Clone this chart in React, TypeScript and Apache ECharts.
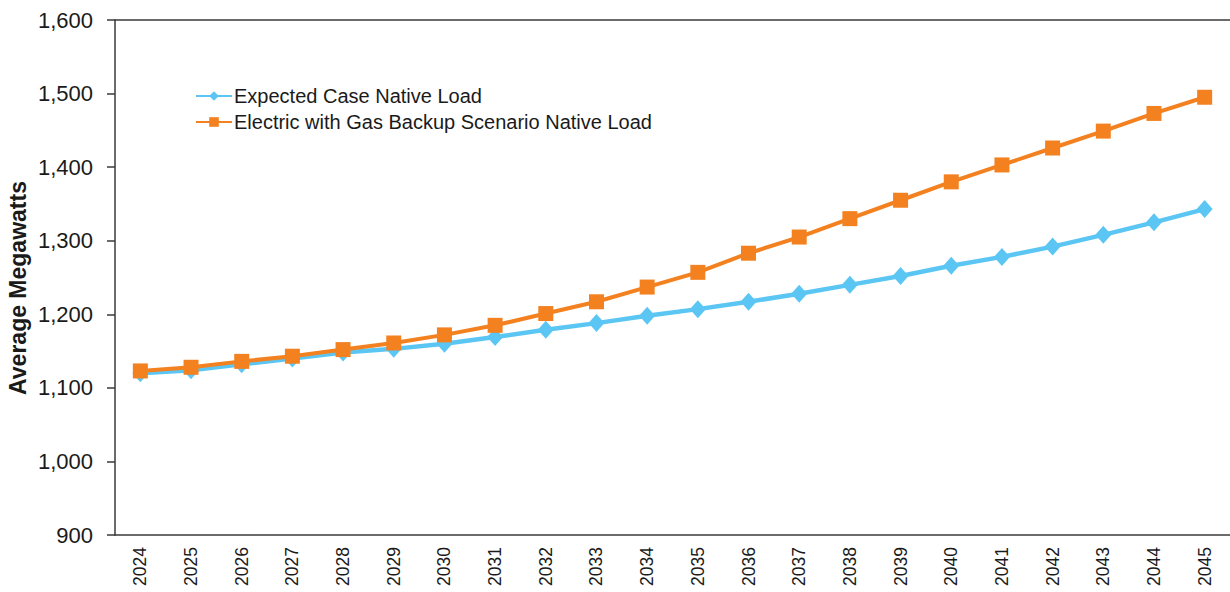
import React, { useEffect, useRef } from "react";
import * as echarts from "echarts";

const years = [
  "2024", "2025", "2026", "2027", "2028", "2029", "2030", "2031", "2032", "2033", "2034",
  "2035", "2036", "2037", "2038", "2039", "2040", "2041", "2042", "2043", "2044", "2045",
];

const expectedCase = [
  1120, 1124, 1132, 1140, 1148, 1153, 1160, 1169, 1179, 1188, 1198,
  1207, 1217, 1228, 1240, 1252, 1266, 1278, 1292, 1308, 1325, 1343,
];

const electricGasBackup = [
  1123, 1128, 1136, 1143, 1152, 1161, 1172, 1185, 1201, 1217, 1237,
  1257, 1283, 1305, 1330, 1355, 1380, 1403, 1426, 1449, 1473, 1495,
];

const seriesNames = [
  "Expected Case Native Load",
  "Electric with Gas Backup Scenario Native Load",
];

const yTitle = "Average Megawatts";

const BLUE = "#5BC6F4";
const ORANGE = "#F48120";
const AXIS = "#3a3a3a";
const FONT = "'Liberation Sans', Arial, sans-serif";

export default function App() {
  const ref = useRef<HTMLDivElement>(null);

  useEffect(() => {
    if (!ref.current) return;
    const chart = echarts.init(ref.current, undefined, { renderer: "svg" });
    chart.setOption({
      animation: false,
      backgroundColor: "#ffffff",
      textStyle: { fontFamily: FONT },
      grid: { left: 115, top: 20, right: -7, bottom: 57, containLabel: false },
      legend: {
        orient: "vertical",
        left: 195,
        top: 86,
        padding: 0,
        itemWidth: 36,
        itemHeight: 12,
        itemGap: 6,
        textStyle: { fontSize: 20, color: "#1a1a1a", fontFamily: FONT, padding: [0, 0, 0, -3] },
        data: seriesNames,
      },
      graphic: [
        {
          type: "text",
          x: 18,
          y: 288,
          rotation: Math.PI / 2,
          style: {
            text: yTitle,
            fontSize: 23,
            fontWeight: "bold",
            fill: "#1a1a1a",
            fontFamily: FONT,
            textAlign: "center",
            textVerticalAlign: "middle",
          },
        },
      ],
      xAxis: [
        {
          type: "category",
          data: years,
          boundaryGap: true,
          position: "bottom",
          axisLine: { show: true, lineStyle: { color: AXIS, width: 1.5 } },
          axisTick: { show: false },
          axisLabel: {
            rotate: 90,
            margin: 12,
            fontSize: 17.5,
            color: "#1a1a1a",
            fontFamily: FONT,
            interval: 0,
          },
          splitLine: { show: false },
        },
        {
          type: "category",
          data: years,
          position: "top",
          axisLine: { show: true, lineStyle: { color: AXIS, width: 1.5 } },
          axisTick: { show: false },
          axisLabel: { show: false },
          splitLine: { show: false },
        },
      ],
      yAxis: {
        type: "value",
        min: 900,
        max: 1600,
        interval: 100,
        axisLine: { show: true, lineStyle: { color: AXIS, width: 1.5 } },
        axisTick: { show: true, inside: false, length: 8, lineStyle: { color: AXIS, width: 1.5 } },
        axisLabel: {
          margin: 22,
          fontSize: 22,
          color: "#1a1a1a",
          fontFamily: FONT,
          formatter: (v: number) => v.toLocaleString("en-US"),
        },
        splitLine: { show: false },
      },
      series: [
        {
          name: seriesNames[0],
          type: "line",
          data: expectedCase,
          symbol: "diamond",
          symbolSize: [16, 18],
          lineStyle: { color: BLUE, width: 4.5 },
          itemStyle: { color: BLUE },
          z: 2,
        },
        {
          name: seriesNames[1],
          type: "line",
          data: electricGasBackup,
          symbol: "rect",
          symbolSize: 15,
          lineStyle: { color: ORANGE, width: 4 },
          itemStyle: { color: ORANGE },
          z: 3,
        },
      ],
    });
    return () => chart.dispose();
  }, []);

  return (
    <div
      ref={ref}
      style={{ position: "absolute", left: 0, top: 0, width: 1230, height: 592 }}
    />
  );
}
